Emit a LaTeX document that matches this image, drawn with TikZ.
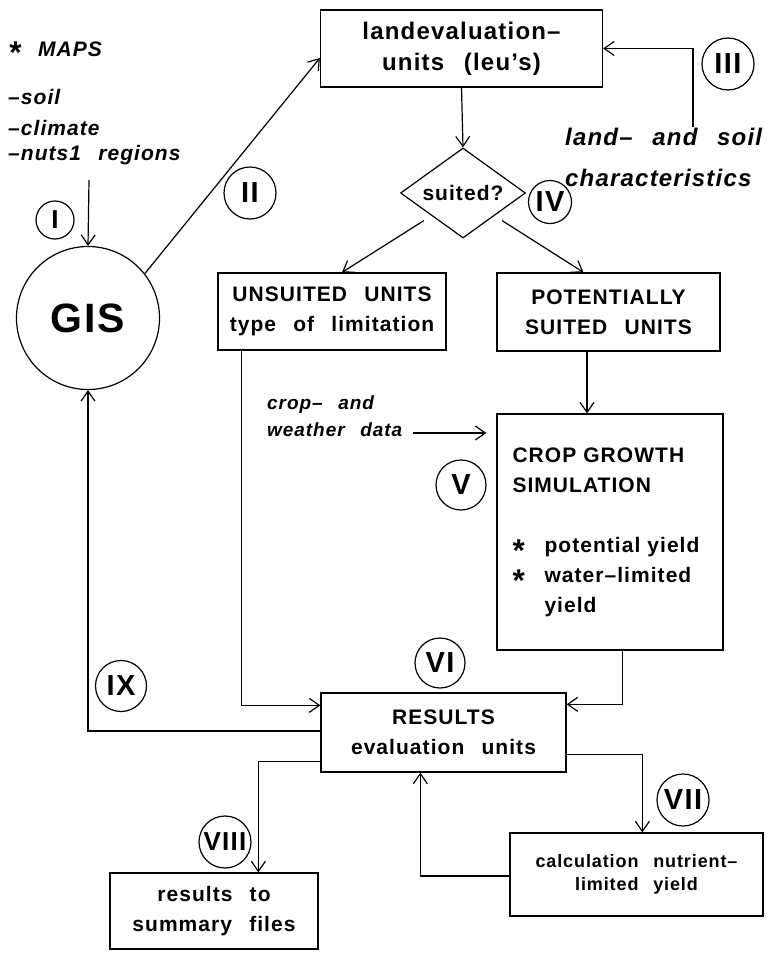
\documentclass[tikz,border=0pt]{standalone}
\usepackage{fontspec}
\setmainfont{Liberation Sans}[LetterSpace=5,WordSpace=2.5]
\usetikzlibrary{shapes.geometric,arrows.meta,calc}
\newcommand{\blob}[1]{\raisebox{#1}{\scalebox{1.5}{*}}}
\begin{document}
\begin{tikzpicture}[x=1pt,y=-1pt,
  box/.style={draw, line width=1.3pt, inner sep=0pt, align=center, font=\fontsize{21}{30}\selectfont\bfseries},
  lab/.style={draw, circle, line width=1.2pt, inner sep=0pt, font=\fontsize{29}{29}\selectfont\bfseries},
  itl/.style={anchor=west, inner sep=0pt, align=left, font=\fontsize{21}{21}\selectfont\bfseries\itshape},
  arr/.style={line width=1.2pt, -{Straight Barb[length=10pt,width=14pt,line width=1.2pt]}},
  ln/.style={line width=1.2pt}]
\useasboundingbox (0,0) rectangle (766,953);
\fill[white] (0,0) rectangle (766,953);

% boxes
\node[box, minimum width=282pt, minimum height=77pt, font=\fontsize{24}{31}\selectfont\bfseries] (top) at (461.5,48.5) {landevaluation\textendash\\units (leu's)};
\node[draw, diamond, aspect=1.39, line width=1.2pt, inner sep=0pt, minimum width=125pt, minimum height=90pt, font=\fontsize{21}{21}\selectfont\bfseries] (d) at (463,193) {suited?};
\node[box, minimum width=228pt, minimum height=77pt] (unsuit) at (332,311.5) {UNSUITED UNITS\\type of limitation};
\node[box, minimum width=223pt, minimum height=78pt] (pot) at (608.5,312) {POTENTIALLY\\SUITED UNITS};
\node[box, minimum width=226pt, minimum height=236pt, text width=195pt, align=left] (crop) at (610,532) {CROP GROWTH\\SIMULATION\\[30pt]\makebox[32pt][l]{\blob{-9pt}}potential yield\\\makebox[32pt][l]{\blob{-9pt}}water\textendash limited\\\hspace*{32pt}yield};
\node[box, minimum width=245pt, minimum height=79pt] (res) at (443.5,732.5) {RESULTS\\evaluation units};
\node[box, minimum width=253pt, minimum height=83pt, font=\fontsize{18}{23}\selectfont\bfseries] (calc) at (636.5,874.5) {calculation nutrient\textendash\\limited yield};
\node[box, minimum width=208pt, minimum height=76pt] (summ) at (214,911) {results to\\summary files};
\node[draw, circle, line width=1.2pt, inner sep=0pt, minimum size=143pt, font=\fontsize{41}{41}\selectfont\bfseries] (gis) at (88,318) {GIS};

% italic labels
\node[itl] (maps) at (8,53) {\makebox[30pt][l]{\blob{-7pt}}MAPS};
\node[itl] (soil) at (8,97) {\textendash soil};
\node[itl] (clim) at (8,128) {\textendash climate};
\node[itl] (nuts) at (8,155) {\textendash nuts1 regions};
\node[itl, font=\fontsize{24}{41}\selectfont\bfseries\itshape] (lsc) at (565,157.5) {land\textendash{} and soil\\characteristics};
\node[itl, font=\fontsize{19}{27}\selectfont\bfseries\itshape] (wlab) at (267,416.5) {crop\textendash{} and\\weather data};

% circled numerals
\node[lab, minimum size=38pt, font=\fontsize{26}{26}\selectfont\bfseries] (cI) at (55,220) {I};
\node[lab, minimum size=52pt] (cII) at (250,193) {II};
\node[lab, minimum size=52pt] (cIII) at (728,64) {III};
\node[lab, minimum size=43pt] (cIV) at (550,202) {IV};
\node[lab, minimum size=50pt] (cV) at (461,485) {V};
\node[lab, minimum size=50pt] (cVI) at (440,663) {VI};
\node[lab, minimum size=52pt] (cVII) at (683,800) {VII};
\node[lab, minimum size=52pt, font=\fontsize{26}{26}\selectfont\bfseries] (cVIII) at (225,842) {VIII};
\node[lab, minimum size=51pt] (cIX) at (121,686) {IX};

% connectors
\coordinate (mapsend) at (89,180);
\draw[arr] (mapsend) -- (gis.north);
\draw[arr] (gis.38) -- ($(top.west)+(0,9.5)$);
\coordinate (lscend) at (693,127);
\draw[arr] (lscend) |- (top.east);
\draw[arr] (top.south) -- (d.north);
\draw[arr, shorten <=9pt] (d.south west) -- ($(unsuit.north)+(10,0)$);
\draw[arr, shorten <=9pt] (d.south east) -- ($(pot.north)+(-25,0)$);
\draw[arr] ($(pot.south)+(-21.5,0)$) coordinate (ps) -- (ps |- crop.north);
\coordinate (wstart) at (413,433);
\draw[arr, shorten >=10pt] (wstart) -- (wstart -| crop.west);
\draw[arr] ($(unsuit.south west)+(24,0)$) |- ($(res.north west)+(0,13)$);
\draw[arr] ($(crop.south west)+(126,0)$) |- ($(res.north east)+(0,12)$);
\draw[arr] ($(res.west)+(0,-1.5)$) -| (gis.south);
\draw[arr] ($(res.south west)+(0,-11)$) -| ($(summ.north west)+(149,0)$);
\draw[arr] ($(res.south east)+(0,-18)$) -| ($(calc.north west)+(133,0)$);
\draw[arr] ($(calc.west)+(0,1.5)$) -| ($(res.south west)+(100,0)$);
\end{tikzpicture}
\end{document}
